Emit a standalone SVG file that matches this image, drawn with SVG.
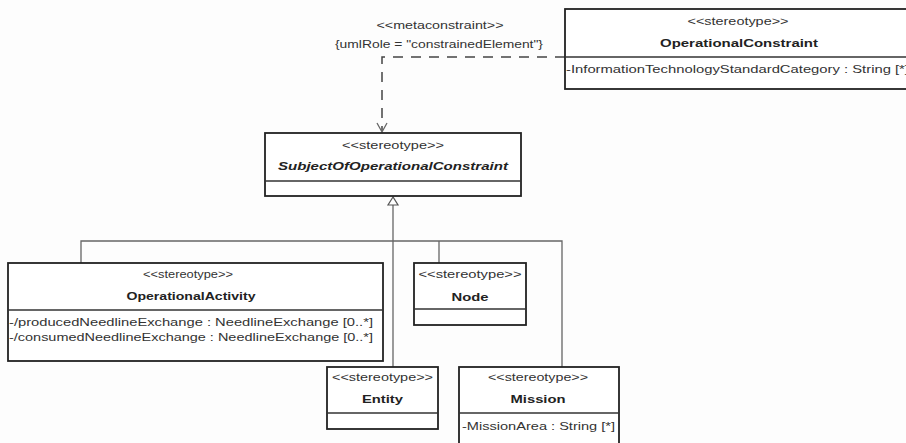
<svg xmlns="http://www.w3.org/2000/svg" width="906" height="443" viewBox="0 0 906 443">
<style>
text{font-family:"Liberation Sans",Arial,sans-serif;font-size:11px;fill:#333}
.c{text-anchor:middle}
.b{font-weight:bold;fill:#222}
.bi{font-weight:bold;font-style:italic;fill:#222}
.box{fill:#fff;stroke:#222;stroke-width:1.8}
.div{stroke:#333;stroke-width:1.5}
.con{fill:none;stroke:#666;stroke-width:1.3}
.dash{fill:none;stroke:#444;stroke-width:1.5;stroke-dasharray:10 8}
</style>
<rect width="906" height="443" fill="#fdfdfd"/>
<g id="connectors">
<path class="dash" d="M565,57 H382 V131"/>
<path class="con" d="M377,123 L382,132 L387,123" stroke="#444"/>
<text class="c" x="440" y="29" textLength="127" lengthAdjust="spacingAndGlyphs">&lt;&lt;metaconstraint&gt;&gt;</text>
<text class="c" x="439" y="48" textLength="208" lengthAdjust="spacingAndGlyphs">{umlRole = "constrainedElement"}</text>
<path class="con" d="M393,205 V367"/>
<path class="con" d="M81,263 V241 H562 V367"/>
<path class="con" d="M439,241 V263"/>
<path d="M393,197 L388,205 H398 Z" fill="#fff" stroke="#555" stroke-width="1.2"/>
</g>
<g id="OperationalConstraint">
<rect class="box" x="565" y="9" width="346" height="80"/>
<line class="div" x1="565" y1="57" x2="911" y2="57"/>
<text class="c" x="738" y="25" textLength="101" lengthAdjust="spacingAndGlyphs">&lt;&lt;stereotype&gt;&gt;</text>
<text class="c b" x="739" y="47" textLength="158" lengthAdjust="spacingAndGlyphs">OperationalConstraint</text>
<text x="566" y="73" textLength="343" lengthAdjust="spacingAndGlyphs">-InformationTechnologyStandardCategory : String [*]</text>
</g>
<g id="SubjectOfOperationalConstraint">
<rect class="box" x="265" y="133" width="256" height="63"/>
<line class="div" x1="265" y1="181" x2="521" y2="181"/>
<text class="c" x="393" y="149" textLength="102" lengthAdjust="spacingAndGlyphs">&lt;&lt;stereotype&gt;&gt;</text>
<text class="c bi" x="393" y="170" textLength="230" lengthAdjust="spacingAndGlyphs">SubjectOfOperationalConstraint</text>
</g>
<g id="OperationalActivity">
<rect class="box" x="8" y="263" width="375" height="98"/>
<line class="div" x1="8" y1="310" x2="383" y2="310"/>
<text class="c" x="188" y="278" textLength="90" lengthAdjust="spacingAndGlyphs">&lt;&lt;stereotype&gt;&gt;</text>
<text class="c b" x="191" y="300" textLength="129" lengthAdjust="spacingAndGlyphs">OperationalActivity</text>
<text x="9" y="326" textLength="364" lengthAdjust="spacingAndGlyphs">-/producedNeedlineExchange : NeedlineExchange [0..*]</text>
<text x="9" y="341" textLength="364" lengthAdjust="spacingAndGlyphs">-/consumedNeedlineExchange : NeedlineExchange [0..*]</text>
</g>
<g id="Node">
<rect class="box" x="414" y="263" width="112" height="62"/>
<line class="div" x1="414" y1="309" x2="526" y2="309"/>
<text class="c" x="470" y="278" textLength="103" lengthAdjust="spacingAndGlyphs">&lt;&lt;stereotype&gt;&gt;</text>
<text class="c b" x="470" y="301" textLength="37" lengthAdjust="spacingAndGlyphs">Node</text>
</g>
<g id="Entity">
<rect class="box" x="327" y="367" width="111" height="62"/>
<line class="div" x1="327" y1="413" x2="438" y2="413"/>
<text class="c" x="382.5" y="381" textLength="101" lengthAdjust="spacingAndGlyphs">&lt;&lt;stereotype&gt;&gt;</text>
<text class="c b" x="382.5" y="403" textLength="41" lengthAdjust="spacingAndGlyphs">Entity</text>
</g>
<g id="Mission">
<rect class="box" x="459" y="367" width="160" height="84"/>
<line class="div" x1="459" y1="413" x2="619" y2="413"/>
<text class="c" x="538" y="381" textLength="100" lengthAdjust="spacingAndGlyphs">&lt;&lt;stereotype&gt;&gt;</text>
<text class="c b" x="538" y="403" textLength="55" lengthAdjust="spacingAndGlyphs">Mission</text>
<text x="462" y="430" textLength="153" lengthAdjust="spacingAndGlyphs">-MissionArea : String [*]</text>
</g>
</svg>
